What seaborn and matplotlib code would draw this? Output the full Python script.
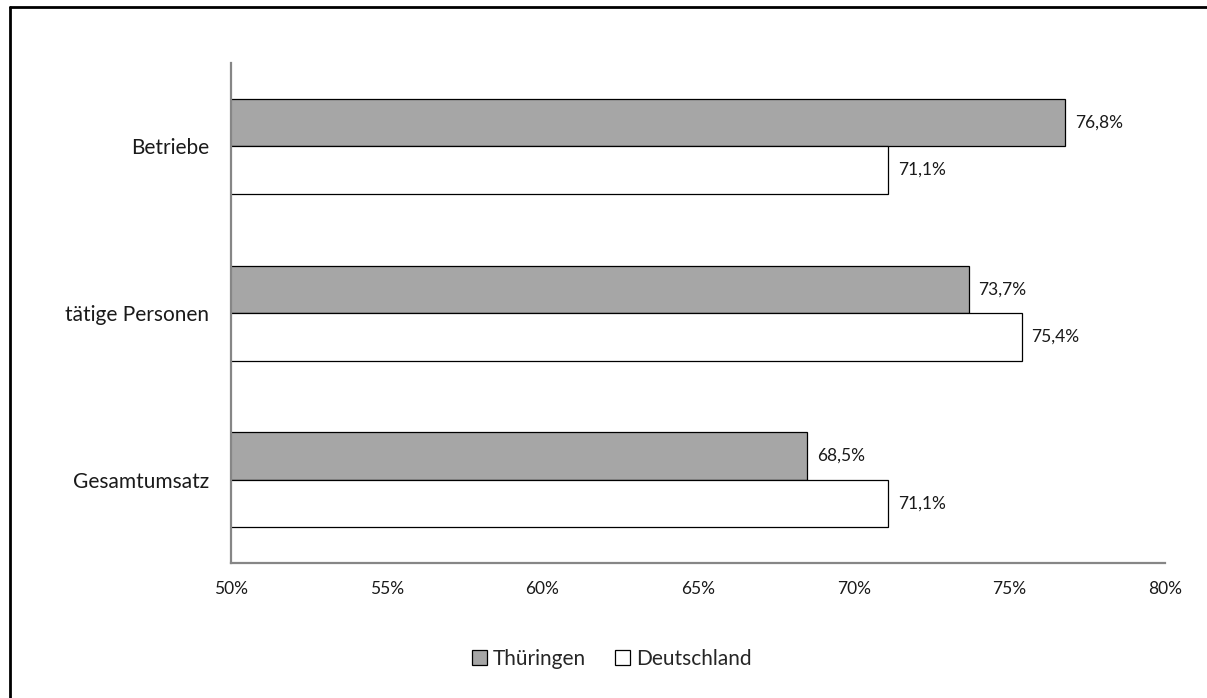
import matplotlib
matplotlib.use("Agg")
import matplotlib.pyplot as plt
from matplotlib.lines import Line2D
import pandas as pd
import seaborn as sns

# data
categories = ["Betriebe", "tätige Personen", "Gesamtumsatz"]
regions = ["Thüringen", "Deutschland"]
thueringen = [76.8, 73.7, 68.5]
deutschland = [71.1, 75.4, 71.1]
x_ticks = [50, 55, 60, 65, 70, 75, 80]

df = pd.DataFrame({
    "Kategorie": categories * 2,
    "Region": [regions[0]] * 3 + [regions[1]] * 3,
    "Anteil": thueringen + deutschland,
})

sns.set_style("white")
plt.rcParams["font.family"] = ["Lato", "DejaVu Sans"]

axis_grey = "#868686"

fig = plt.figure(figsize=(12.07, 6.98), dpi=100)
ax = fig.add_axes([0.1914, 0.1934, 0.9652 - 0.1914, 0.9097 - 0.1934])

sns.barplot(data=df, y="Kategorie", x="Anteil", hue="Region",
            hue_order=regions, order=categories, orient="h",
            palette={"Thüringen": "#A6A6A6", "Deutschland": "white"},
            edgecolor="black", linewidth=0.9, width=0.57,
            saturation=1, ax=ax)

ax.set_xlim(50, 80)
ax.set_xticks(x_ticks)
ax.set_xticklabels([f"{t}%" for t in x_ticks], fontsize=12.5, color="#1a1a1a")
ax.tick_params(axis="x", direction="out", length=5, width=1.3,
               color=axis_grey, pad=8)
ax.tick_params(axis="y", length=0, pad=16, labelsize=15, labelcolor="#1a1a1a")
ax.set_xlabel("")
ax.set_ylabel("")

for side in ["top", "right"]:
    ax.spines[side].set_visible(False)
for side in ["left", "bottom"]:
    ax.spines[side].set_color(axis_grey)
    ax.spines[side].set_linewidth(1.6)

# value labels with German decimal comma
for cont in ax.containers:
    labels = [f"{v:.1f}%".replace(".", ",") for v in cont.datavalues]
    ax.bar_label(cont, labels=labels, padding=7, fontsize=12.5, color="#1a1a1a")

handles, labels = ax.get_legend_handles_labels()
ax.get_legend().remove()
fig.legend(handles, labels, loc="center", bbox_to_anchor=(0.507, 1 - 659 / 698),
           ncol=2, frameon=False, fontsize=15, handlelength=0.7,
           handleheight=0.7, handletextpad=0.3, columnspacing=1.4)

# outer chart frame (only left and top edge visible in the crop)
W, H = 1207, 698
fig.add_artist(Line2D([9.5 / W, 9.5 / W], [0, 1 - 7 / H], color="black",
                      linewidth=2.0, transform=fig.transFigure))
fig.add_artist(Line2D([9.5 / W, 1], [1 - 7 / H, 1 - 7 / H], color="black",
                      linewidth=2.0, transform=fig.transFigure))

fig.savefig("out.png", dpi=100)
